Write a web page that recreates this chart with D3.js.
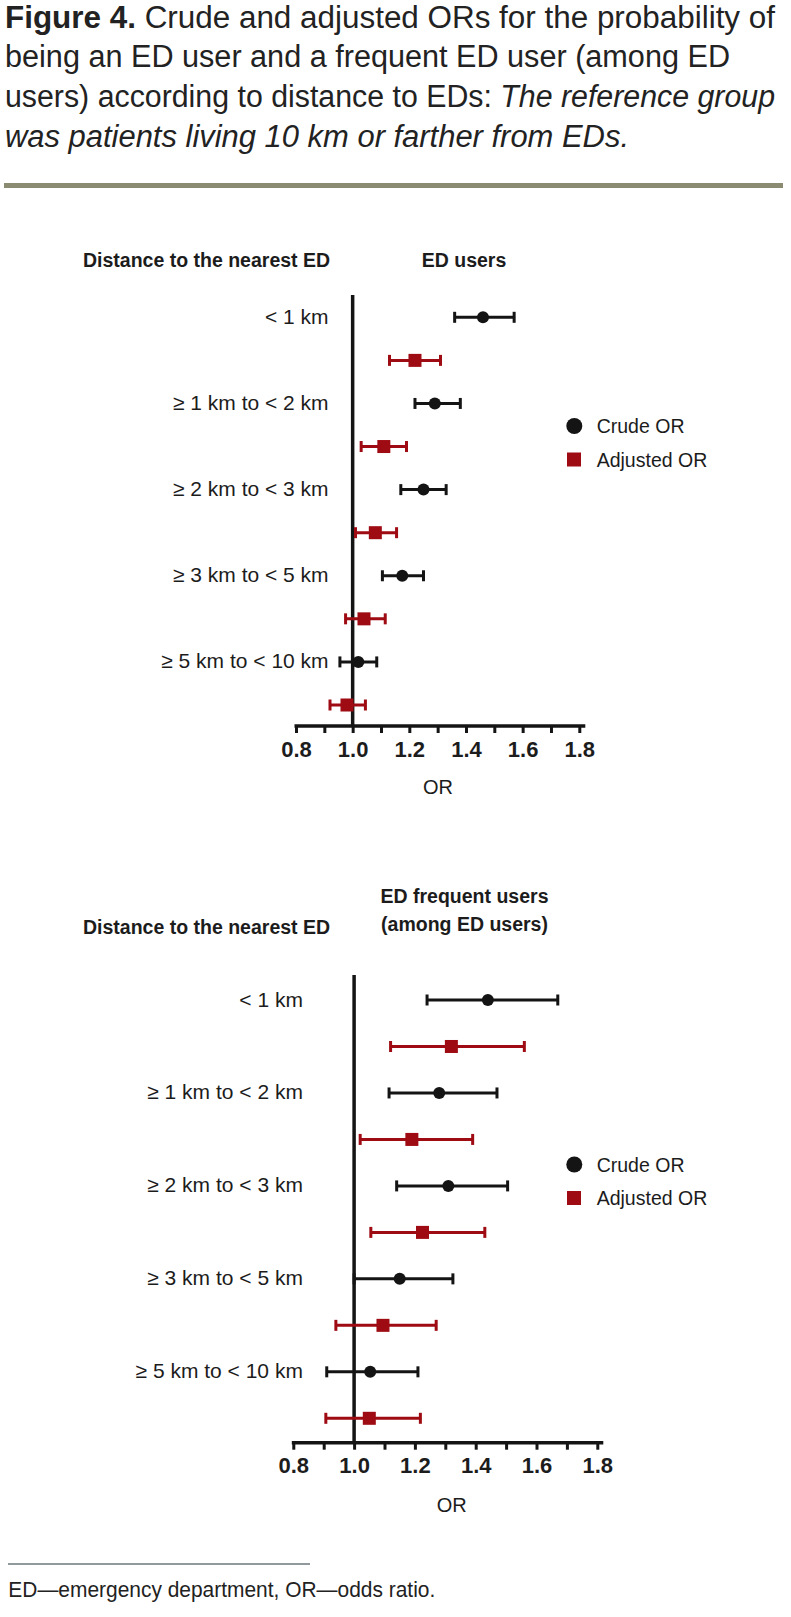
<!DOCTYPE html>
<html><head><meta charset="utf-8">
<script src="https://cdn.jsdelivr.net/npm/d3@7"></script>
<style>
body{margin:0;background:#fff}
svg{display:block}
text{font-family:"Liberation Sans",Arial,sans-serif;fill:#1c1c1c}
</style>
</head><body>
<svg id="c" width="791" height="1617"></svg>
<script>
// ---------- DATA ----------
const categories = ["< 1 km", "\u2265 1 km to < 2 km", "\u2265 2 km to < 3 km", "\u2265 3 km to < 5 km", "\u2265 5 km to < 10 km"];

// ED users
const edCrude   = [1.46, 1.29, 1.25, 1.175, 1.02];
const edCrudeLo = [1.36, 1.22, 1.17, 1.105, 0.955];
const edCrudeHi = [1.57, 1.38, 1.33, 1.25, 1.085];
const edAdj     = [1.22, 1.11, 1.08, 1.04, 0.98];
const edAdjLo   = [1.13, 1.03, 1.01, 0.975, 0.92];
const edAdjHi   = [1.31, 1.19, 1.155, 1.115, 1.045];

// ED frequent users (among ED users)
const freqCrude   = [1.44, 1.28, 1.31, 1.15, 1.053];
const freqCrudeLo = [1.24, 1.115, 1.14, 1.00, 0.91];
const freqCrudeHi = [1.67, 1.47, 1.505, 1.325, 1.21];
const freqAdj     = [1.32, 1.19, 1.225, 1.095, 1.05];
const freqAdjLo   = [1.12, 1.02, 1.055, 0.94, 0.907];
const freqAdjHi   = [1.56, 1.39, 1.43, 1.27, 1.218];

const tickValues  = [0.8, 0.9, 1.0, 1.1, 1.2, 1.3, 1.4, 1.5, 1.6, 1.7, 1.8];
const tickLabels  = ["0.8", "1.0", "1.2", "1.4", "1.6", "1.8"];
const seriesNames = ["Crude OR", "Adjusted OR"];
const rowHeader   = "Distance to the nearest ED";
const axisTitle   = "OR";
const refValue    = 1.0;

// ---------- STYLE ----------
const BLACK = "#141414", RED = "#9e0b12";
const svg = d3.select("#c");

// Title
const title = svg.append("g");
const tl = [
  {y:27.5, w:770, parts:[{t:"Figure 4.", b:true},{t:" Crude and adjusted ORs for the probability of"}]},
  {y:67, w:725, parts:[{t:"being an ED user and a frequent ED user (among ED"}]},
  {y:106.5, w:770, parts:[{t:"users) according to distance to EDs: "},{t:"The reference group", i:true}]},
  {y:146.5, w:624, parts:[{t:"was patients living 10 km or farther from EDs.", i:true}]}
];
tl.forEach(l => {
  const t = title.append("text").attr("x", 5).attr("y", l.y)
    .attr("font-size", 31).attr("textLength", l.w).attr("lengthAdjust", "spacingAndGlyphs")
    .style("fill", "#222");
  l.parts.forEach(p => t.append("tspan").text(p.t)
    .attr("font-weight", p.b ? "bold" : null)
    .attr("font-style", p.i ? "italic" : null));
});
svg.append("rect").attr("x", 4).attr("y", 183).attr("width", 779).attr("height", 5).attr("fill", "#8a8b71");

function panel(cfg, crude, crudeLo, crudeHi, adj, adjLo, adjHi, headerLines) {
  const g = svg.append("g");
  const x = d3.scaleLinear().domain([0.8, 1.8]).range([cfg.x0, cfg.x1]);
  const y = d3.scalePoint().domain(d3.range(categories.length * 2)).range([cfg.yFirst, cfg.yLast]);

  // headers
  g.append("text").attr("x", 83).attr("y", cfg.rowHeaderY).attr("dominant-baseline", "central")
    .attr("font-size", 19.5).attr("font-weight", "bold").text(rowHeader);
  headerLines.forEach((h, i) => g.append("text").attr("x", cfg.headerX).attr("y", cfg.headerY + i * 28)
    .attr("dominant-baseline", "central").attr("text-anchor", "middle")
    .attr("font-size", 19.5).attr("font-weight", "bold").text(h));

  // row labels
  g.selectAll(".lab").data(categories).join("text")
    .attr("x", cfg.labelRight).attr("y", (d, i) => y(i * 2) - 1)
    .attr("text-anchor", "end").attr("dominant-baseline", "central")
    .attr("font-size", 21).text(d => d);

  // reference line
  g.append("line").attr("x1", x(refValue)).attr("x2", x(refValue))
    .attr("y1", cfg.lineTop).attr("y2", cfg.axisY)
    .attr("stroke", BLACK).attr("stroke-width", 3.5);

  // axis
  const ax = g.append("g").attr("transform", `translate(0,${cfg.axisY})`)
    .call(d3.axisBottom(x).tickValues(tickValues).tickSize(7).tickPadding(8)
      .tickFormat(d => { const s = d3.format(".1f")(d); return tickLabels.includes(s) ? s : ""; }));
  ax.select(".domain").remove();
  ax.selectAll(".tick line").attr("stroke", BLACK).attr("stroke-width", 3);
  ax.selectAll(".tick text").attr("font-size", 22).attr("font-weight", "bold")
    .attr("font-family", "Liberation Sans, Arial, sans-serif").style("fill", "#1c1c1c");
  ax.append("line").attr("x1", x(0.8) - 1.5).attr("x2", x(1.8) + 6).attr("y1", 0).attr("y2", 0)
    .attr("stroke", BLACK).attr("stroke-width", 3.5);
  g.append("text").attr("x", cfg.orX).attr("y", cfg.orY).attr("text-anchor", "middle")
    .attr("dominant-baseline", "central").attr("font-size", 20).text(axisTitle);

  // series
  const series = [
    {v: crude, lo: crudeLo, hi: crudeHi, off: 0, color: BLACK, shape: "circle"},
    {v: adj,   lo: adjLo,   hi: adjHi,   off: 1, color: RED,   shape: "square"}
  ];
  series.forEach(s => {
    const sg = g.append("g");
    const rows = s.v.map((v, i) => ({v, lo: s.lo[i], hi: s.hi[i], yy: y(i * 2 + s.off)}));
    sg.selectAll(".bar").data(rows).join("line")
      .attr("x1", d => x(d.lo)).attr("x2", d => x(d.hi)).attr("y1", d => d.yy).attr("y2", d => d.yy)
      .attr("stroke", s.color).attr("stroke-width", 3);
    ["lo", "hi"].forEach(k => sg.selectAll(".cap" + k).data(rows).join("line")
      .attr("x1", d => x(d[k])).attr("x2", d => x(d[k]))
      .attr("y1", d => d.yy - 5.5).attr("y2", d => d.yy + 5.5)
      .attr("stroke", s.color).attr("stroke-width", 3));
    if (s.shape === "circle") {
      sg.selectAll(".pt").data(rows).join("circle")
        .attr("cx", d => x(d.v)).attr("cy", d => d.yy).attr("r", 6).attr("fill", s.color);
    } else {
      sg.selectAll(".pt").data(rows).join("rect")
        .attr("x", d => x(d.v) - 6.5).attr("y", d => d.yy - 6.5).attr("width", 13).attr("height", 13)
        .attr("fill", s.color);
    }
  });

  // legend
  const lg = g.append("g");
  lg.append("circle").attr("cx", 574.3).attr("cy", cfg.legY).attr("r", 8).attr("fill", BLACK);
  lg.append("rect").attr("x", 567).attr("y", cfg.legY + 33.5 - 7).attr("width", 14).attr("height", 14).attr("fill", RED);
  seriesNames.forEach((n, i) => lg.append("text").attr("x", 596.7).attr("y", cfg.legY + i * 33.5)
    .attr("dominant-baseline", "central").attr("font-size", 19.5).text(n));
}

panel({x0:296, x1:579.3, yFirst:317.3, yLast:705, axisY:726, lineTop:295, labelRight:328.6,
       rowHeaderY:260, headerX:464, headerY:260, orX:438, orY:786.5, legY:426},
  edCrude, edCrudeLo, edCrudeHi, edAdj, edAdjLo, edAdjHi, ["ED users"]);

panel({x0:293.3, x1:597.3, yFirst:1000, yLast:1418.3, axisY:1442.7, lineTop:975, labelRight:302.9,
       rowHeaderY:927, headerX:464.5, headerY:896, orX:451.7, orY:1505, legY:1164.5},
  freqCrude, freqCrudeLo, freqCrudeHi, freqAdj, freqAdjLo, freqAdjHi, ["ED frequent users", "(among ED users)"]);

// footer
svg.append("line").attr("x1", 8).attr("x2", 310).attr("y1", 1564).attr("y2", 1564)
  .attr("stroke", "#6e777c").attr("stroke-width", 1.6);
svg.append("text").attr("x", 8.3).attr("y", 1596.5).attr("font-size", 22)
  .attr("textLength", 427).attr("lengthAdjust", "spacingAndGlyphs")
  .style("fill", "#222").text("ED\u2014emergency department, OR\u2014odds ratio.");
</script>
</body></html>
